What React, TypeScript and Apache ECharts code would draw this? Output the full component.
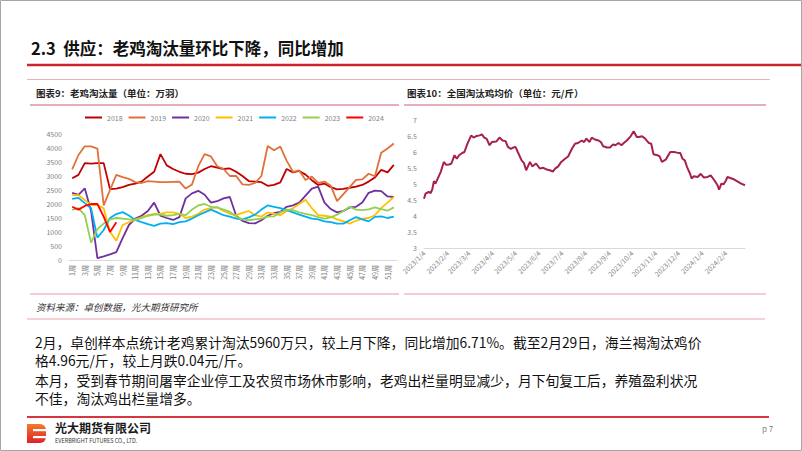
import React, { useEffect, useRef } from 'react';
import * as echarts from 'echarts';

// ---------- Chart 1: 老鸡淘汰量（万羽） ----------
const weekLabels: string[] = Array.from({ length: 52 }, (_, i) => `${i + 1}周`);
const yearNames = ['2018', '2019', '2020', '2021', '2022', '2023', '2024'];
const yearColors = ['#C00000', '#E2703A', '#7030A0', '#FFC000', '#00B0F0', '#92D050', '#FF0000'];

const y2018 = [2920,3040,3460,3440,3460,3460,2530,2550,2600,2680,2730,2800,2980,3150,3780,3380,3250,3150,3080,3070,3120,3250,3350,3300,3250,3270,3150,3000,2820,2800,2780,2650,2680,2770,3250,3130,3180,3050,2850,2680,2730,2600,2520,2540,2580,2620,2680,2800,2950,3220,3130,3400];
const y2019 = [3240,3750,4060,4060,3980,1950,2500,3040,2960,2900,2780,2750,2820,2800,2780,2780,2790,2800,2550,2700,3350,3780,3700,3350,3250,3000,3000,2700,2680,2750,3000,4070,3920,4050,3550,3150,3200,2860,2980,2750,2800,2650,2100,2350,2600,2860,2880,3080,2990,3830,3980,4160];
const y2020 = [2400,2330,2560,1750,70,130,200,280,780,1250,1480,1580,1750,2050,1580,1500,1430,1530,2200,2380,2470,2330,2050,2100,2200,2250,1580,1400,1320,1310,1420,1580,1670,1720,1900,1950,2050,2300,2550,2620,2050,1820,1700,1750,1880,1900,2050,2400,2480,2460,2270,2250];
const y2021 = [2320,2320,2140,1960,1960,1850,1010,690,1250,1350,1450,1520,1600,1650,1650,1700,1700,1650,1500,1550,1650,1800,1850,1880,1750,1650,1600,1680,1750,1600,1550,1700,1650,1600,1750,1850,2000,2150,1850,1600,1580,1550,1450,1380,1300,1400,1480,1500,1600,1850,2050,2250];
const y2022 = [2180,2220,2030,1850,800,1070,1500,1640,1710,1590,1430,1350,1280,1220,1300,1320,1280,1350,1380,1480,1600,1700,1800,1700,1600,1550,1480,1450,1520,1620,1800,1950,1900,1850,1780,1700,1620,1550,1480,1450,1380,1350,1300,1300,1420,1530,1450,1380,1540,1560,1500,1550];
const y2023 = [1790,1850,1600,620,1100,1300,1450,1500,1480,1450,1420,1500,1580,1620,1620,1580,1600,1650,1600,1800,1950,2000,1900,1880,1800,1720,1550,1450,1420,1450,1480,1550,1560,1700,1800,1780,1700,1650,1600,1530,1480,1520,1620,1750,1900,1800,1780,1810,1880,1820,1760,1880];
const y2024 = [1900,1800,1930,2000,2000,1550,1000,1350];
const yearSeries = [y2018, y2019, y2020, y2021, y2022, y2023, y2024];

// ---------- Chart 2: 全国淘汰鸡均价（元/斤） ----------
const priceDates = ['2023/1/4','2023/1/6','2023/1/10','2023/1/13','2023/1/15','2023/1/17','2023/1/19','2023/1/22','2023/1/26','2023/1/30','2023/2/2','2023/2/6','2023/2/9','2023/2/13','2023/2/16','2023/2/19','2023/2/23','2023/2/26','2023/3/2','2023/3/7','2023/3/10','2023/3/13','2023/3/18','2023/3/21','2023/3/24','2023/3/27','2023/3/31','2023/4/3','2023/4/9','2023/4/13','2023/4/17','2023/4/21','2023/4/24','2023/4/28','2023/5/1','2023/5/4','2023/5/7','2023/5/12','2023/5/15','2023/5/18','2023/5/23','2023/5/26','2023/5/31','2023/6/5','2023/6/9','2023/6/14','2023/6/18','2023/6/22','2023/6/25','2023/6/29','2023/7/3','2023/7/8','2023/7/12','2023/7/17','2023/7/21','2023/7/25','2023/7/30','2023/8/2','2023/8/5','2023/8/9','2023/8/12','2023/8/16','2023/8/21','2023/8/24','2023/8/27','2023/9/1','2023/9/5','2023/9/9','2023/9/12','2023/9/16','2023/9/20','2023/9/23','2023/9/27','2023/10/2','2023/10/6','2023/10/10','2023/10/13','2023/10/17','2023/10/21','2023/10/26','2023/10/29','2023/11/1','2023/11/6','2023/11/9','2023/11/12','2023/11/17','2023/11/19','2023/11/23','2023/11/28','2023/12/2','2023/12/6','2023/12/9','2023/12/12','2023/12/15','2023/12/19','2023/12/21','2023/12/24','2023/12/29','2024/1/2','2024/1/6','2024/1/11','2024/1/15','2024/1/20','2024/1/24','2024/1/26','2024/1/29','2024/2/1','2024/2/4','2024/2/6','2024/2/15','2024/2/24','2024/2/29'];
const priceValues = [4.54,4.70,4.75,4.72,4.85,5.09,5.01,5.17,5.38,5.69,5.60,5.61,5.64,5.90,5.79,5.90,5.97,6.00,6.26,6.52,6.45,6.49,6.52,6.55,6.45,6.42,6.21,6.31,6.33,6.45,6.36,6.34,6.16,6.10,6.14,6.16,6.00,5.74,5.66,5.43,5.69,5.55,5.64,5.48,5.51,5.45,5.43,5.39,5.48,5.55,5.69,5.79,5.86,6.10,6.26,6.28,6.36,6.31,6.42,6.31,6.45,6.39,6.36,6.31,6.18,6.14,6.14,6.24,6.21,6.28,6.21,6.28,6.36,6.49,6.65,6.47,6.47,6.49,6.42,6.28,6.26,5.93,5.90,5.86,5.69,5.76,5.84,6.00,6.00,5.98,5.97,5.79,5.74,5.53,5.32,5.17,5.24,5.22,5.32,5.20,5.22,5.27,5.11,4.96,4.82,5.01,4.99,5.11,5.22,5.14,5.01,4.96];

// daily category axis 2023/1/4 .. 2024/2/29
const dayCategories: string[] = (() => {
  const out: string[] = [];
  const d = new Date(2023, 0, 4);
  const end = new Date(2024, 1, 29);
  while (d <= end) {
    out.push(`${d.getFullYear()}/${d.getMonth() + 1}/${d.getDate()}`);
    d.setDate(d.getDate() + 1);
  }
  return out;
})();

const titleText = '2.3  供应：老鸡淘汰量环比下降，同比增加';
const chart1Title = '图表9：老鸡淘汰量（单位：万羽）';
const chart2Title = '图表10：全国淘汰鸡均价（单位：元/斤）';
const sourceText = '资料来源：卓创数据，光大期货研究所';
const paraLines = [
  '2月，卓创样本点统计老鸡累计淘汰5960万只，较上月下降，同比增加6.71%。截至2月29日，海兰褐淘汰鸡价',
  '格4.96元/斤，较上月跌0.04元/斤。',
  '本月，受到春节期间屠宰企业停工及农贸市场休市影响，老鸡出栏量明显减少，月下旬复工后，养殖盈利状况',
  '不佳，淘汰鸡出栏量增多。',
];

const FONT = '"Noto Sans CJK SC", "Noto Sans", sans-serif';

export default function App() {
  const ref = useRef<HTMLDivElement>(null);
  useEffect(() => {
    document.body.style.margin = '0';
    const chart = echarts.init(ref.current!, undefined, { renderer: 'svg' });
    const axisLabelStyle = { color: '#7F7F7F', fontSize: 7, fontFamily: FONT };
    const txt = (x: number, y: number, text: string, extra: any = {}) => ({
      type: 'text', x, y, silent: true,
      style: { text, fill: '#000', fontFamily: FONT, fontSize: 12, verticalAlign: 'middle', ...extra },
    });
    const ln = (x1: number, y1: number, x2: number, y2: number, stroke: string, lineWidth: number) => ({
      type: 'line', silent: true, shape: { x1, y1, x2, y2 }, style: { stroke, lineWidth },
    });
    const para = { fontSize: 13.8, lineHeight: 15, fill: '#111' };

    const graphics: any[] = [
      { type: 'rect', silent: true, shape: { x: 0.5, y: 0.5, width: 801, height: 450 }, style: { fill: 'none', stroke: '#A6A6A6', lineWidth: 1 } },
      txt(31, 48, titleText, { fontSize: 16.5, fontWeight: 'bold', fill: '#111' }),
      ln(27, 65, 801, 65, '#C9252C', 2.5),
      ln(27, 79.5, 770, 79.5, '#EBB3B8', 1),
      txt(36, 93, chart1Title, { fontSize: 9.5, fontWeight: 'bold', fill: '#222' }),
      txt(407, 93, chart2Title, { fontSize: 9.5, fontWeight: 'bold', fill: '#222' }),
      ln(30, 105, 399, 105, '#C96075', 1),
      ln(404, 105, 766, 105, '#C96075', 1),
      ln(30, 294, 399, 294, '#F4B9C6', 1.5),
      ln(404, 294, 766, 294, '#F4B9C6', 1.5),
      txt(36, 307, sourceText, { fontSize: 9.5, fontStyle: 'italic', fill: '#333' }),
      ln(27, 319, 765, 319, '#E7A3AA', 1),
      txt(35, 341.5, paraLines[0], para),
      txt(35, 360, paraLines[1], para),
      txt(35, 379.5, paraLines[2], para),
      txt(35, 398, paraLines[3], para),
      ln(27, 417, 769, 417, '#D8363E', 2),
      // logo
      { type: 'rect', silent: true, shape: { x: 27, y: 424, width: 19, height: 19, r: [0, 6, 6, 0] },
        style: { fill: new echarts.graphic.LinearGradient(0, 0, 0, 1, [{ offset: 0, color: '#F27A2A' }, { offset: 1, color: '#E0202A' }]) } },
      { type: 'rect', silent: true, shape: { x: 33, y: 429, width: 14, height: 2.2 }, style: { fill: '#fff' } },
      { type: 'rect', silent: true, shape: { x: 33, y: 436, width: 14, height: 2.2 }, style: { fill: '#fff' } },
      txt(55, 427, '光大期货有限公司', { fontSize: 12, lineHeight: 12, fontWeight: 'bold', fill: '#1A1A1A' }),
      txt(55, 440.5, 'EVERBRIGHT FUTURES CO., LTD.', { fontSize: 5.5, lineHeight: 6, fill: '#333' }),
      txt(762, 428, 'p 7', { fontSize: 8, fill: '#7F7F7F' }),
    ];

    const series1 = yearNames.map((name, i) => ({
      name, type: 'line', xAxisIndex: 0, yAxisIndex: 0,
      data: yearSeries[i], symbol: 'none', smooth: false,
      lineStyle: { color: yearColors[i], width: 1.8 }, itemStyle: { color: yearColors[i] },
    }));

    chart.setOption({
      animation: false,
      backgroundColor: '#fff',
      textStyle: { fontFamily: FONT },
      legend: {
        data: yearNames, left: 85, top: 114, itemWidth: 17, itemHeight: 2, itemGap: 6, icon: 'rect',
        textStyle: { color: '#7F7F7F', fontSize: 7, fontFamily: FONT }, padding: 0,
      },
      grid: [
        { left: 69, right: 405, top: 134, bottom: 191, containLabel: false },
        { left: 424, right: 57, top: 120, bottom: 203, containLabel: false },
      ],
      xAxis: [
        {
          type: 'category', gridIndex: 0, data: weekLabels, boundaryGap: true,
          axisLine: { lineStyle: { color: '#D9D9D9' } }, axisTick: { show: false },
          axisLabel: { ...axisLabelStyle, rotate: 90, interval: 1, margin: 5 },
        },
        {
          type: 'category', gridIndex: 1, data: dayCategories, boundaryGap: false,
          axisLine: { lineStyle: { color: '#D9D9D9' } }, axisTick: { show: false },
          axisLabel: { ...axisLabelStyle, rotate: 45, margin: 4, interval: (_i: number, v: string) => v.endsWith('/4') },
        },
      ],
      yAxis: [
        {
          type: 'value', gridIndex: 0, min: 0, max: 4500, interval: 500,
          axisLine: { show: false }, axisTick: { show: false }, splitLine: { show: false },
          axisLabel: { ...axisLabelStyle, margin: 7, formatter: (v: number) => String(v) },
        },
        {
          type: 'value', gridIndex: 1, min: 3, max: 7, interval: 0.5,
          axisLine: { show: false }, axisTick: { show: false }, splitLine: { show: false },
          axisLabel: { ...axisLabelStyle, margin: 7, formatter: (v: number) => String(v) },
        },
      ],
      series: [
        ...series1,
        {
          name: '均价', type: 'line', xAxisIndex: 1, yAxisIndex: 1,
          data: priceDates.map((d, i) => [d, priceValues[i]]), symbol: 'none',
          lineStyle: { color: '#A8204E', width: 2 }, itemStyle: { color: '#A8204E' },
        },
      ],
      graphic: graphics,
    });
    return () => chart.dispose();
  }, []);
  return <div ref={ref} style={{ width: 802, height: 451, position: 'absolute', left: 0, top: 0 }} />;
}
